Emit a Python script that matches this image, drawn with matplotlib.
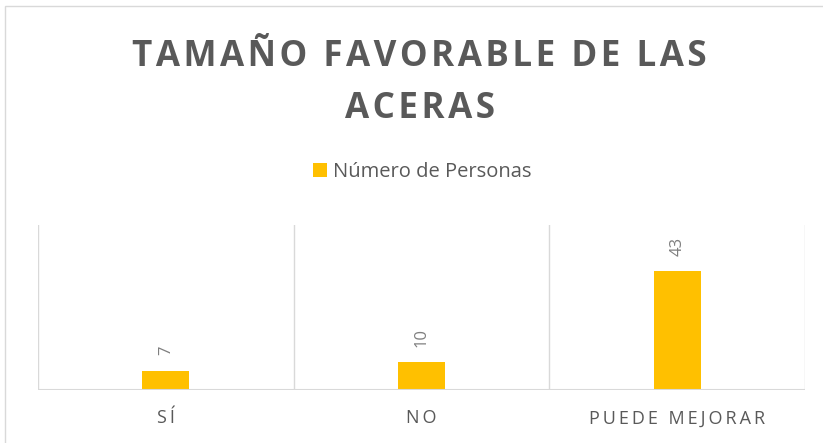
import matplotlib
matplotlib.use("Agg")
import matplotlib.pyplot as plt
from matplotlib.patches import Rectangle, Patch

categories = ["SÍ", "NO", "PUEDE MEJORAR"]
values = [7, 10, 43]
series_name = "Número de Personas"
title_lines = ["TAMAÑO FAVORABLE DE LAS", "ACERAS"]

W, H = 823, 443
fig = plt.figure(figsize=(W / 100, H / 100), dpi=100)
fig.patch.set_facecolor("white")

# outer chart border
fig.patches.append(Rectangle((5 / W, -0.05), 1.2, 1 - 6 / H + 0.05,
                             transform=fig.transFigure, fill=False,
                             edgecolor="#d9d9d9", linewidth=1.0))

ax = fig.add_axes([38 / W, 1 - 390 / H, (805 - 38) / W, (390 - 225) / H])
bar_color = "#FFC000"
x = list(range(len(categories)))
bars = ax.bar(x, values, width=0.185, color=bar_color, zorder=3)
ax.set_xlim(-0.5, len(categories) - 0.5)
ax.set_ylim(0, 59.6)

for b in [-0.5 + i for i in range(len(categories) + 1)]:
    ax.axvline(b, color="#d9d9d9", linewidth=1.0, zorder=1)

for s in ax.spines.values():
    s.set_visible(False)
ax.axhline(0, color="#d9d9d9", linewidth=1.5, zorder=4)
ax.set_yticks([])
ax.set_xticks(x)
spaced = ["\u2009".join(c) for c in categories]
ax.set_xticklabels(spaced, fontsize=13, color="#595959", family=["Open Sans", "DejaVu Sans"])
ax.tick_params(axis="x", length=0, pad=14)

for xi, v in zip(x, values):
    ax.annotate(str(v), (xi, v), xytext=(0, 11), textcoords="offset points",
                rotation=90, ha="center", va="bottom", fontsize=12,
                color="#7f7f7f", family="Open Sans")

spaced_title = "\n".join("\u200a".join(line) for line in title_lines)
fig.text(0.51, 1 - 83 / H, spaced_title, ha="center", va="center",
         fontsize=25.2, fontweight="bold", color="#595959",
         family=["Open Sans", "DejaVu Sans"], linespacing=1.57)

handle = Patch(facecolor=bar_color, edgecolor="none")
fig.legend([handle], [series_name], loc="center", bbox_to_anchor=(0.513, 1 - 172 / H),
           frameon=False, handlelength=0.7, handleheight=0.7,
           handletextpad=0.3, prop={"family": "Open Sans", "size": 14.5},
           labelcolor="#595959")

fig.savefig("out.png", dpi=100)
